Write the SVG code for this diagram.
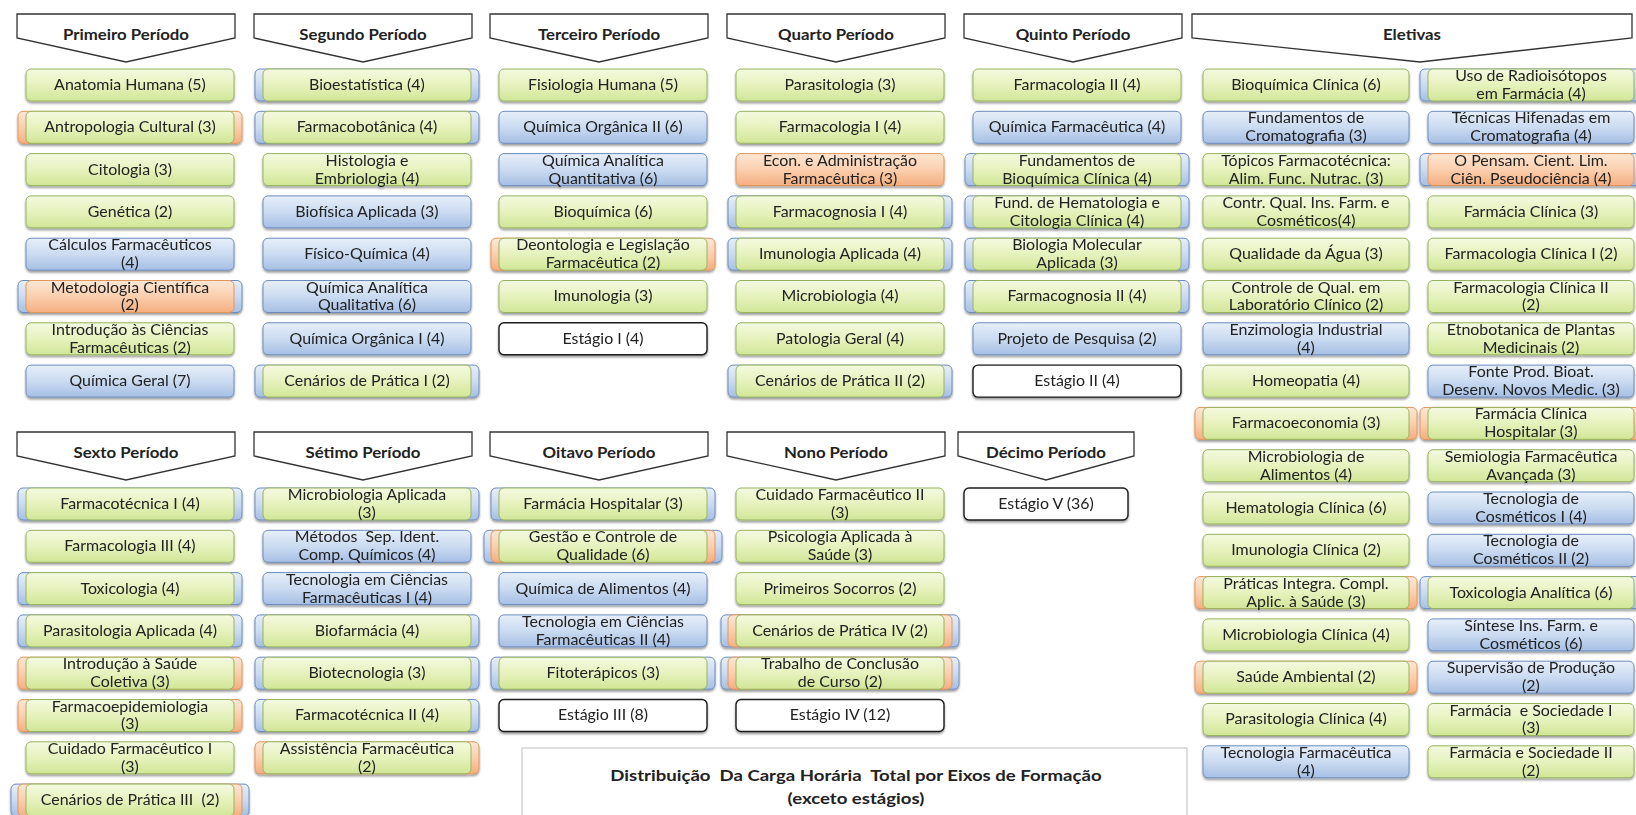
<svg xmlns="http://www.w3.org/2000/svg" width="1636" height="815" viewBox="0 0 1636 815">
<defs>
<linearGradient id="gG" x1="0" y1="0" x2="0" y2="1"><stop offset="0" stop-color="#f4f9e0"/><stop offset="0.5" stop-color="#e6f2bd"/><stop offset="1" stop-color="#d1e697"/></linearGradient>
<linearGradient id="gB" x1="0" y1="0" x2="0" y2="1"><stop offset="0" stop-color="#e7eff9"/><stop offset="0.5" stop-color="#cbdbf1"/><stop offset="1" stop-color="#a6bfe4"/></linearGradient>
<linearGradient id="gO" x1="0" y1="0" x2="0" y2="1"><stop offset="0" stop-color="#fde7d5"/><stop offset="0.5" stop-color="#fbcfae"/><stop offset="1" stop-color="#f5ae80"/></linearGradient>
<filter id="sh" x="-10%" y="-20%" width="120%" height="160%"><feDropShadow dx="0" dy="2" stdDeviation="1.2" flood-color="#000" flood-opacity="0.38"/></filter>
</defs>
<style>
.node{filter:url(#sh)}
rect{stroke-width:1}
.g{fill:url(#gG);stroke:#98b35f}
.b{fill:url(#gB);stroke:#6c8dbd}
.o{fill:url(#gO);stroke:#e2965a}
.w{fill:#fff;stroke:#1a1a1a;stroke-width:1.4}
text{font-family:Lato,"Liberation Sans",sans-serif;font-size:14.5px;fill:#222;text-anchor:middle;white-space:pre;transform-box:fill-box;transform-origin:center;transform:scaleX(1.1)}
.hdr path{fill:#fff;stroke:#333;stroke-width:1.3}
.hdr text{font-size:15px;font-weight:bold;transform:scaleX(1.12)}
.legend rect{fill:#fff;stroke:#bdbdbd}
.legend text{font-size:15px;font-weight:bold;transform:scaleX(1.24)}
</style>

<!-- period headers, first band -->
<g id="h-primeiro" class="hdr" transform="translate(17,14)"><path d="M0,0H218V24L109,48L0,24Z"/><text x="109" y="26">Primeiro Período</text></g>
<g id="h-segundo" class="hdr" transform="translate(254,14)"><path d="M0,0H218V24L109,48L0,24Z"/><text x="109" y="26">Segundo Período</text></g>
<g id="h-terceiro" class="hdr" transform="translate(490,14)"><path d="M0,0H218V24L109,48L0,24Z"/><text x="109" y="26">Terceiro Período</text></g>
<g id="h-quarto" class="hdr" transform="translate(727,14)"><path d="M0,0H218V24L109,48L0,24Z"/><text x="109" y="26">Quarto Período</text></g>
<g id="h-quinto" class="hdr" transform="translate(964,14)"><path d="M0,0H218V24L109,48L0,24Z"/><text x="109" y="26">Quinto Período</text></g>
<g id="h-eletivas" class="hdr" transform="translate(1192,14)"><path d="M0,0H440V24L228,48L0,24Z"/><text x="220" y="26">Eletivas</text></g>

<!-- period headers, second band -->
<g id="h-sexto" class="hdr" transform="translate(17,432)"><path d="M0,0H218V24L109,48L0,24Z"/><text x="109" y="26">Sexto Período</text></g>
<g id="h-setimo" class="hdr" transform="translate(254,432)"><path d="M0,0H218V24L109,48L0,24Z"/><text x="109" y="26">Sétimo Período</text></g>
<g id="h-oitavo" class="hdr" transform="translate(490,432)"><path d="M0,0H218V24L109,48L0,24Z"/><text x="109" y="26">Oitavo Período</text></g>
<g id="h-nono" class="hdr" transform="translate(727,432)"><path d="M0,0H218V24L109,48L0,24Z"/><text x="109" y="26">Nono Período</text></g>
<g id="h-decimo" class="hdr" transform="translate(958,432)"><path d="M0,0H176V24L88,48L0,24Z"/><text x="88" y="26">Décimo Período</text></g>

<!-- Primeiro Período -->
<g id="p1-anatomia" class="node" transform="translate(26,69)"><rect class="g" width="208" height="32" rx="5"/><text x="104" y="21">Anatomia Humana (5)</text></g>
<g id="p1-antropologia" class="node" transform="translate(26,111.3)"><rect class="o" x="-8" width="224" height="32" rx="5"/><rect class="g" width="208" height="32" rx="5"/><text x="104" y="21">Antropologia Cultural (3)</text></g>
<g id="p1-citologia" class="node" transform="translate(26,153.6)"><rect class="g" width="208" height="32" rx="5"/><text x="104" y="21">Citologia (3)</text></g>
<g id="p1-genetica" class="node" transform="translate(26,195.9)"><rect class="g" width="208" height="32" rx="5"/><text x="104" y="21">Genética (2)</text></g>
<g id="p1-calculos" class="node" transform="translate(26,238.2)"><rect class="b" width="208" height="32" rx="5"/><text x="104"><tspan x="104" y="12">Cálculos Farmacêuticos</tspan><tspan x="104" y="30">(4)</tspan></text></g>
<g id="p1-metodologia" class="node" transform="translate(26,280.5)"><rect class="b" x="-8" width="224" height="32" rx="5"/><rect class="o" width="208" height="32" rx="5"/><text x="104"><tspan x="104" y="12">Metodologia Científica</tspan><tspan x="104" y="30">(2)</tspan></text></g>
<g id="p1-introducao" class="node" transform="translate(26,322.8)"><rect class="g" width="208" height="32" rx="5"/><text x="104"><tspan x="104" y="12">Introdução às Ciências</tspan><tspan x="104" y="30">Farmacêuticas (2)</tspan></text></g>
<g id="p1-quimica-geral" class="node" transform="translate(26,365.1)"><rect class="b" width="208" height="32" rx="5"/><text x="104" y="21">Química Geral (7)</text></g>

<!-- Segundo Período -->
<g id="p2-bioestatistica" class="node" transform="translate(263,69)"><rect class="b" x="-8" width="224" height="32" rx="5"/><rect class="g" width="208" height="32" rx="5"/><text x="104" y="21">Bioestatística (4)</text></g>
<g id="p2-farmacobotanica" class="node" transform="translate(263,111.3)"><rect class="b" x="-8" width="224" height="32" rx="5"/><rect class="g" width="208" height="32" rx="5"/><text x="104" y="21">Farmacobotânica (4)</text></g>
<g id="p2-histologia" class="node" transform="translate(263,153.6)"><rect class="g" width="208" height="32" rx="5"/><text x="104"><tspan x="104" y="12">Histologia e</tspan><tspan x="104" y="30">Embriologia (4)</tspan></text></g>
<g id="p2-biofisica" class="node" transform="translate(263,195.9)"><rect class="b" width="208" height="32" rx="5"/><text x="104" y="21">Biofísica Aplicada (3)</text></g>
<g id="p2-fisico-quimica" class="node" transform="translate(263,238.2)"><rect class="b" width="208" height="32" rx="5"/><text x="104" y="21">Físico-Química (4)</text></g>
<g id="p2-analitica-quali" class="node" transform="translate(263,280.5)"><rect class="b" width="208" height="32" rx="5"/><text x="104"><tspan x="104" y="12">Química Analítica</tspan><tspan x="104" y="30">Qualitativa (6)</tspan></text></g>
<g id="p2-organica-1" class="node" transform="translate(263,322.8)"><rect class="b" width="208" height="32" rx="5"/><text x="104" y="21">Química Orgânica I (4)</text></g>
<g id="p2-cenarios-1" class="node" transform="translate(263,365.1)"><rect class="b" x="-8" width="224" height="32" rx="5"/><rect class="g" width="208" height="32" rx="5"/><text x="104" y="21">Cenários de Prática I (2)</text></g>

<!-- Terceiro Período -->
<g id="p3-fisiologia" class="node" transform="translate(499,69)"><rect class="g" width="208" height="32" rx="5"/><text x="104" y="21">Fisiologia Humana (5)</text></g>
<g id="p3-organica-2" class="node" transform="translate(499,111.3)"><rect class="b" width="208" height="32" rx="5"/><text x="104" y="21">Química Orgânica II (6)</text></g>
<g id="p3-analitica-quanti" class="node" transform="translate(499,153.6)"><rect class="b" width="208" height="32" rx="5"/><text x="104"><tspan x="104" y="12">Química Analítica</tspan><tspan x="104" y="30">Quantitativa (6)</tspan></text></g>
<g id="p3-bioquimica" class="node" transform="translate(499,195.9)"><rect class="g" width="208" height="32" rx="5"/><text x="104" y="21">Bioquímica (6)</text></g>
<g id="p3-deontologia" class="node" transform="translate(499,238.2)"><rect class="o" x="-8" width="224" height="32" rx="5"/><rect class="g" width="208" height="32" rx="5"/><text x="104"><tspan x="104" y="12">Deontologia e Legislação</tspan><tspan x="104" y="30">Farmacêutica (2)</tspan></text></g>
<g id="p3-imunologia" class="node" transform="translate(499,280.5)"><rect class="g" width="208" height="32" rx="5"/><text x="104" y="21">Imunologia (3)</text></g>
<g id="p3-estagio-1" class="node" transform="translate(499,322.8)"><rect class="w" width="208" height="32" rx="5"/><text x="104" y="21">Estágio I (4)</text></g>

<!-- Quarto Período -->
<g id="p4-parasitologia" class="node" transform="translate(736,69)"><rect class="g" width="208" height="32" rx="5"/><text x="104" y="21">Parasitologia (3)</text></g>
<g id="p4-farmacologia-1" class="node" transform="translate(736,111.3)"><rect class="g" width="208" height="32" rx="5"/><text x="104" y="21">Farmacologia I (4)</text></g>
<g id="p4-economia" class="node" transform="translate(736,153.6)"><rect class="o" width="208" height="32" rx="5"/><text x="104"><tspan x="104" y="12">Econ. e Administração</tspan><tspan x="104" y="30">Farmacêutica (3)</tspan></text></g>
<g id="p4-farmacognosia-1" class="node" transform="translate(736,195.9)"><rect class="b" x="-8" width="224" height="32" rx="5"/><rect class="g" width="208" height="32" rx="5"/><text x="104" y="21">Farmacognosia I (4)</text></g>
<g id="p4-imunologia-aplicada" class="node" transform="translate(736,238.2)"><rect class="b" x="-8" width="224" height="32" rx="5"/><rect class="g" width="208" height="32" rx="5"/><text x="104" y="21">Imunologia Aplicada (4)</text></g>
<g id="p4-microbiologia" class="node" transform="translate(736,280.5)"><rect class="g" width="208" height="32" rx="5"/><text x="104" y="21">Microbiologia (4)</text></g>
<g id="p4-patologia" class="node" transform="translate(736,322.8)"><rect class="g" width="208" height="32" rx="5"/><text x="104" y="21">Patologia Geral (4)</text></g>
<g id="p4-cenarios-2" class="node" transform="translate(736,365.1)"><rect class="b" x="-8" width="224" height="32" rx="5"/><rect class="g" width="208" height="32" rx="5"/><text x="104" y="21">Cenários de Prática II (2)</text></g>

<!-- Quinto Período -->
<g id="p5-farmacologia-2" class="node" transform="translate(973,69)"><rect class="g" width="208" height="32" rx="5"/><text x="104" y="21">Farmacologia II (4)</text></g>
<g id="p5-quimica-farm" class="node" transform="translate(973,111.3)"><rect class="b" width="208" height="32" rx="5"/><text x="104" y="21">Química Farmacêutica (4)</text></g>
<g id="p5-fund-bioquimica" class="node" transform="translate(973,153.6)"><rect class="b" x="-8" width="224" height="32" rx="5"/><rect class="g" width="208" height="32" rx="5"/><text x="104"><tspan x="104" y="12">Fundamentos de</tspan><tspan x="104" y="30">Bioquímica Clínica (4)</tspan></text></g>
<g id="p5-fund-hematologia" class="node" transform="translate(973,195.9)"><rect class="b" x="-8" width="224" height="32" rx="5"/><rect class="g" width="208" height="32" rx="5"/><text x="104"><tspan x="104" y="12">Fund. de Hematologia e</tspan><tspan x="104" y="30">Citologia Clínica (4)</tspan></text></g>
<g id="p5-biologia-molecular" class="node" transform="translate(973,238.2)"><rect class="b" x="-8" width="224" height="32" rx="5"/><rect class="g" width="208" height="32" rx="5"/><text x="104"><tspan x="104" y="12">Biologia Molecular</tspan><tspan x="104" y="30">Aplicada (3)</tspan></text></g>
<g id="p5-farmacognosia-2" class="node" transform="translate(973,280.5)"><rect class="b" x="-8" width="224" height="32" rx="5"/><rect class="g" width="208" height="32" rx="5"/><text x="104" y="21">Farmacognosia II (4)</text></g>
<g id="p5-projeto" class="node" transform="translate(973,322.8)"><rect class="b" width="208" height="32" rx="5"/><text x="104" y="21">Projeto de Pesquisa (2)</text></g>
<g id="p5-estagio-2" class="node" transform="translate(973,365.1)"><rect class="w" width="208" height="32" rx="5"/><text x="104" y="21">Estágio II (4)</text></g>

<!-- Eletivas, first column -->
<g id="e1-bioquimica-clinica" class="node" transform="translate(1203,69)"><rect class="g" width="206" height="32" rx="5"/><text x="103" y="21">Bioquímica Clínica (6)</text></g>
<g id="e1-cromatografia" class="node" transform="translate(1203,111.3)"><rect class="b" width="206" height="32" rx="5"/><text x="103"><tspan x="103" y="12">Fundamentos de</tspan><tspan x="103" y="30">Cromatografia (3)</tspan></text></g>
<g id="e1-topicos" class="node" transform="translate(1203,153.6)"><rect class="g" width="206" height="32" rx="5"/><text x="103"><tspan x="103" y="12">Tópicos Farmacotécnica:</tspan><tspan x="103" y="30">Alim. Func. Nutrac. (3)</tspan></text></g>
<g id="e1-contr-qual" class="node" transform="translate(1203,195.9)"><rect class="g" width="206" height="32" rx="5"/><text x="103"><tspan x="103" y="12">Contr. Qual. Ins. Farm. e</tspan><tspan x="103" y="30">Cosméticos(4)</tspan></text></g>
<g id="e1-agua" class="node" transform="translate(1203,238.2)"><rect class="g" width="206" height="32" rx="5"/><text x="103" y="21">Qualidade da Água (3)</text></g>
<g id="e1-controle-lab" class="node" transform="translate(1203,280.5)"><rect class="g" width="206" height="32" rx="5"/><text x="103"><tspan x="103" y="12">Controle de Qual. em</tspan><tspan x="103" y="30">Laboratório Clínico (2)</tspan></text></g>
<g id="e1-enzimologia" class="node" transform="translate(1203,322.8)"><rect class="b" width="206" height="32" rx="5"/><text x="103"><tspan x="103" y="12">Enzimologia Industrial</tspan><tspan x="103" y="30">(4)</tspan></text></g>
<g id="e1-homeopatia" class="node" transform="translate(1203,365.1)"><rect class="g" width="206" height="32" rx="5"/><text x="103" y="21">Homeopatia (4)</text></g>
<g id="e1-farmacoeconomia" class="node" transform="translate(1203,407.4)"><rect class="o" x="-8" width="222" height="32" rx="5"/><rect class="g" width="206" height="32" rx="5"/><text x="103" y="21">Farmacoeconomia (3)</text></g>
<g id="e1-micro-alimentos" class="node" transform="translate(1203,449.7)"><rect class="g" width="206" height="32" rx="5"/><text x="103"><tspan x="103" y="12">Microbiologia de</tspan><tspan x="103" y="30">Alimentos (4)</tspan></text></g>
<g id="e1-hematologia" class="node" transform="translate(1203,492)"><rect class="g" width="206" height="32" rx="5"/><text x="103" y="21">Hematologia Clínica (6)</text></g>
<g id="e1-imunologia-clinica" class="node" transform="translate(1203,534.3)"><rect class="g" width="206" height="32" rx="5"/><text x="103" y="21">Imunologia Clínica (2)</text></g>
<g id="e1-praticas" class="node" transform="translate(1203,576.6)"><rect class="o" x="-8" width="222" height="32" rx="5"/><rect class="g" width="206" height="32" rx="5"/><text x="103"><tspan x="103" y="12">Práticas Integra. Compl.</tspan><tspan x="103" y="30">Aplic. à Saúde (3)</tspan></text></g>
<g id="e1-micro-clinica" class="node" transform="translate(1203,618.9)"><rect class="g" width="206" height="32" rx="5"/><text x="103" y="21">Microbiologia Clínica (4)</text></g>
<g id="e1-saude-ambiental" class="node" transform="translate(1203,661.2)"><rect class="o" x="-8" width="222" height="32" rx="5"/><rect class="g" width="206" height="32" rx="5"/><text x="103" y="21">Saúde Ambiental (2)</text></g>
<g id="e1-parasitologia-clinica" class="node" transform="translate(1203,703.5)"><rect class="g" width="206" height="32" rx="5"/><text x="103" y="21">Parasitologia Clínica (4)</text></g>
<g id="e1-tecnologia-farm" class="node" transform="translate(1203,745.8)"><rect class="b" width="206" height="32" rx="5"/><text x="103"><tspan x="103" y="12">Tecnologia Farmacêutica</tspan><tspan x="103" y="30">(4)</tspan></text></g>

<!-- Eletivas, second column -->
<g id="e2-radioisotopos" class="node" transform="translate(1428,69)"><rect class="b" x="-8" width="222" height="32" rx="5"/><rect class="g" width="206" height="32" rx="5"/><text x="103"><tspan x="103" y="12">Uso de Radioisótopos</tspan><tspan x="103" y="30">em Farmácia (4)</tspan></text></g>
<g id="e2-hifenadas" class="node" transform="translate(1428,111.3)"><rect class="b" width="206" height="32" rx="5"/><text x="103"><tspan x="103" y="12">Técnicas Hifenadas em</tspan><tspan x="103" y="30">Cromatografia (4)</tspan></text></g>
<g id="e2-pensamento" class="node" transform="translate(1428,153.6)"><rect class="b" x="-8" width="222" height="32" rx="5"/><rect class="o" width="206" height="32" rx="5"/><text x="103"><tspan x="103" y="12">O Pensam. Cient. Lim.</tspan><tspan x="103" y="30">Ciên. Pseudociência (4)</tspan></text></g>
<g id="e2-farmacia-clinica" class="node" transform="translate(1428,195.9)"><rect class="g" width="206" height="32" rx="5"/><text x="103" y="21">Farmácia Clínica (3)</text></g>
<g id="e2-farmacologia-clinica-1" class="node" transform="translate(1428,238.2)"><rect class="g" width="206" height="32" rx="5"/><text x="103" y="21">Farmacologia Clínica I (2)</text></g>
<g id="e2-farmacologia-clinica-2" class="node" transform="translate(1428,280.5)"><rect class="g" width="206" height="32" rx="5"/><text x="103"><tspan x="103" y="12">Farmacologia Clínica II</tspan><tspan x="103" y="30">(2)</tspan></text></g>
<g id="e2-etnobotanica" class="node" transform="translate(1428,322.8)"><rect class="g" width="206" height="32" rx="5"/><text x="103"><tspan x="103" y="12">Etnobotanica de Plantas</tspan><tspan x="103" y="30">Medicinais (2)</tspan></text></g>
<g id="e2-bioativos" class="node" transform="translate(1428,365.1)"><rect class="b" width="206" height="32" rx="5"/><text x="103"><tspan x="103" y="12">Fonte Prod. Bioat.</tspan><tspan x="103" y="30">Desenv. Novos Medic. (3)</tspan></text></g>
<g id="e2-clinica-hospitalar" class="node" transform="translate(1428,407.4)"><rect class="o" x="-8" width="222" height="32" rx="5"/><rect class="g" width="206" height="32" rx="5"/><text x="103"><tspan x="103" y="12">Farmácia Clínica</tspan><tspan x="103" y="30">Hospitalar (3)</tspan></text></g>
<g id="e2-semiologia" class="node" transform="translate(1428,449.7)"><rect class="g" width="206" height="32" rx="5"/><text x="103"><tspan x="103" y="12">Semiologia Farmacêutica</tspan><tspan x="103" y="30">Avançada (3)</tspan></text></g>
<g id="e2-cosmeticos-1" class="node" transform="translate(1428,492)"><rect class="b" width="206" height="32" rx="5"/><text x="103"><tspan x="103" y="12">Tecnologia de</tspan><tspan x="103" y="30">Cosméticos I (4)</tspan></text></g>
<g id="e2-cosmeticos-2" class="node" transform="translate(1428,534.3)"><rect class="b" width="206" height="32" rx="5"/><text x="103"><tspan x="103" y="12">Tecnologia de</tspan><tspan x="103" y="30">Cosméticos II (2)</tspan></text></g>
<g id="e2-toxicologia-analitica" class="node" transform="translate(1428,576.6)"><rect class="b" x="-8" width="222" height="32" rx="5"/><rect class="g" width="206" height="32" rx="5"/><text x="103" y="21">Toxicologia Analítica (6)</text></g>
<g id="e2-sintese" class="node" transform="translate(1428,618.9)"><rect class="b" width="206" height="32" rx="5"/><text x="103"><tspan x="103" y="12">Síntese Ins. Farm. e</tspan><tspan x="103" y="30">Cosméticos (6)</tspan></text></g>
<g id="e2-supervisao" class="node" transform="translate(1428,661.2)"><rect class="b" width="206" height="32" rx="5"/><text x="103"><tspan x="103" y="12">Supervisão de Produção</tspan><tspan x="103" y="30">(2)</tspan></text></g>
<g id="e2-sociedade-1" class="node" transform="translate(1428,703.5)"><rect class="g" width="206" height="32" rx="5"/><text x="103"><tspan x="103" y="12">Farmácia  e Sociedade I</tspan><tspan x="103" y="30">(3)</tspan></text></g>
<g id="e2-sociedade-2" class="node" transform="translate(1428,745.8)"><rect class="g" width="206" height="32" rx="5"/><text x="103"><tspan x="103" y="12">Farmácia e Sociedade II</tspan><tspan x="103" y="30">(2)</tspan></text></g>

<!-- Sexto Período -->
<g id="p6-farmacotecnica-1" class="node" transform="translate(26,488)"><rect class="b" x="-8" width="224" height="32" rx="5"/><rect class="g" width="208" height="32" rx="5"/><text x="104" y="21">Farmacotécnica I (4)</text></g>
<g id="p6-farmacologia-3" class="node" transform="translate(26,530.3)"><rect class="g" width="208" height="32" rx="5"/><text x="104" y="21">Farmacologia III (4)</text></g>
<g id="p6-toxicologia" class="node" transform="translate(26,572.6)"><rect class="b" x="-8" width="224" height="32" rx="5"/><rect class="g" width="208" height="32" rx="5"/><text x="104" y="21">Toxicologia (4)</text></g>
<g id="p6-parasitologia-aplicada" class="node" transform="translate(26,614.9)"><rect class="b" x="-8" width="224" height="32" rx="5"/><rect class="g" width="208" height="32" rx="5"/><text x="104" y="21">Parasitologia Aplicada (4)</text></g>
<g id="p6-saude-coletiva" class="node" transform="translate(26,657.2)"><rect class="o" x="-8" width="224" height="32" rx="5"/><rect class="g" width="208" height="32" rx="5"/><text x="104"><tspan x="104" y="12">Introdução à Saúde</tspan><tspan x="104" y="30">Coletiva (3)</tspan></text></g>
<g id="p6-farmacoepidemiologia" class="node" transform="translate(26,699.5)"><rect class="o" x="-8" width="224" height="32" rx="5"/><rect class="g" width="208" height="32" rx="5"/><text x="104"><tspan x="104" y="12">Farmacoepidemiologia</tspan><tspan x="104" y="30">(3)</tspan></text></g>
<g id="p6-cuidado-1" class="node" transform="translate(26,741.8)"><rect class="g" width="208" height="32" rx="5"/><text x="104"><tspan x="104" y="12">Cuidado Farmacêutico I</tspan><tspan x="104" y="30">(3)</tspan></text></g>
<g id="p6-cenarios-3" class="node" transform="translate(26,784.1)"><rect class="b" x="-15" width="238" height="32" rx="5"/><rect class="o" x="-8" width="224" height="32" rx="5"/><rect class="g" width="208" height="32" rx="5"/><text x="104" y="21">Cenários de Prática III  (2)</text></g>

<!-- Sétimo Período -->
<g id="p7-micro-aplicada" class="node" transform="translate(263,488)"><rect class="b" x="-8" width="224" height="32" rx="5"/><rect class="g" width="208" height="32" rx="5"/><text x="104"><tspan x="104" y="12">Microbiologia Aplicada</tspan><tspan x="104" y="30">(3)</tspan></text></g>
<g id="p7-metodos" class="node" transform="translate(263,530.3)"><rect class="b" width="208" height="32" rx="5"/><text x="104"><tspan x="104" y="12">Métodos  Sep. Ident.</tspan><tspan x="104" y="30">Comp. Químicos (4)</tspan></text></g>
<g id="p7-tecnologia-1" class="node" transform="translate(263,572.6)"><rect class="b" width="208" height="32" rx="5"/><text x="104"><tspan x="104" y="12">Tecnologia em Ciências</tspan><tspan x="104" y="30">Farmacêuticas I (4)</tspan></text></g>
<g id="p7-biofarmacia" class="node" transform="translate(263,614.9)"><rect class="b" x="-8" width="224" height="32" rx="5"/><rect class="g" width="208" height="32" rx="5"/><text x="104" y="21">Biofarmácia (4)</text></g>
<g id="p7-biotecnologia" class="node" transform="translate(263,657.2)"><rect class="b" x="-8" width="224" height="32" rx="5"/><rect class="g" width="208" height="32" rx="5"/><text x="104" y="21">Biotecnologia (3)</text></g>
<g id="p7-farmacotecnica-2" class="node" transform="translate(263,699.5)"><rect class="b" x="-8" width="224" height="32" rx="5"/><rect class="g" width="208" height="32" rx="5"/><text x="104" y="21">Farmacotécnica II (4)</text></g>
<g id="p7-assistencia" class="node" transform="translate(263,741.8)"><rect class="o" x="-8" width="224" height="32" rx="5"/><rect class="g" width="208" height="32" rx="5"/><text x="104"><tspan x="104" y="12">Assistência Farmacêutica</tspan><tspan x="104" y="30">(2)</tspan></text></g>

<!-- Oitavo Período -->
<g id="p8-hospitalar" class="node" transform="translate(499,488)"><rect class="b" x="-8" width="224" height="32" rx="5"/><rect class="g" width="208" height="32" rx="5"/><text x="104" y="21">Farmácia Hospitalar (3)</text></g>
<g id="p8-gestao" class="node" transform="translate(499,530.3)"><rect class="b" x="-15" width="238" height="32" rx="5"/><rect class="o" x="-8" width="224" height="32" rx="5"/><rect class="g" width="208" height="32" rx="5"/><text x="104"><tspan x="104" y="12">Gestão e Controle de</tspan><tspan x="104" y="30">Qualidade (6)</tspan></text></g>
<g id="p8-alimentos" class="node" transform="translate(499,572.6)"><rect class="b" width="208" height="32" rx="5"/><text x="104" y="21">Química de Alimentos (4)</text></g>
<g id="p8-tecnologia-2" class="node" transform="translate(499,614.9)"><rect class="b" width="208" height="32" rx="5"/><text x="104"><tspan x="104" y="12">Tecnologia em Ciências</tspan><tspan x="104" y="30">Farmacêuticas II (4)</tspan></text></g>
<g id="p8-fitoterapicos" class="node" transform="translate(499,657.2)"><rect class="b" x="-8" width="224" height="32" rx="5"/><rect class="g" width="208" height="32" rx="5"/><text x="104" y="21">Fitoterápicos (3)</text></g>
<g id="p8-estagio-3" class="node" transform="translate(499,699.5)"><rect class="w" width="208" height="32" rx="5"/><text x="104" y="21">Estágio III (8)</text></g>

<!-- Nono Período -->
<g id="p9-cuidado-2" class="node" transform="translate(736,488)"><rect class="g" width="208" height="32" rx="5"/><text x="104"><tspan x="104" y="12">Cuidado Farmacêutico II</tspan><tspan x="104" y="30">(3)</tspan></text></g>
<g id="p9-psicologia" class="node" transform="translate(736,530.3)"><rect class="g" width="208" height="32" rx="5"/><text x="104"><tspan x="104" y="12">Psicologia Aplicada à</tspan><tspan x="104" y="30">Saúde (3)</tspan></text></g>
<g id="p9-socorros" class="node" transform="translate(736,572.6)"><rect class="g" width="208" height="32" rx="5"/><text x="104" y="21">Primeiros Socorros (2)</text></g>
<g id="p9-cenarios-4" class="node" transform="translate(736,614.9)"><rect class="b" x="-15" width="238" height="32" rx="5"/><rect class="o" x="-8" width="224" height="32" rx="5"/><rect class="g" width="208" height="32" rx="5"/><text x="104" y="21">Cenários de Prática IV (2)</text></g>
<g id="p9-tcc" class="node" transform="translate(736,657.2)"><rect class="b" x="-15" width="238" height="32" rx="5"/><rect class="o" x="-8" width="224" height="32" rx="5"/><rect class="g" width="208" height="32" rx="5"/><text x="104"><tspan x="104" y="12">Trabalho de Conclusão</tspan><tspan x="104" y="30">de Curso (2)</tspan></text></g>
<g id="p9-estagio-4" class="node" transform="translate(736,699.5)"><rect class="w" width="208" height="32" rx="5"/><text x="104" y="21">Estágio IV (12)</text></g>

<!-- Décimo Período -->
<g id="p10-estagio-5" class="node" transform="translate(964,488)"><rect class="w" width="164" height="32" rx="5"/><text x="82" y="21">Estágio V (36)</text></g>

<!-- chart caption panel -->
<g id="legend" class="legend"><rect x="522" y="748" width="665" height="90"/><text x="856" y="781">Distribuição  Da Carga Horária  Total por Eixos de Formação</text><text x="856" y="804">(exceto estágios)</text></g>
</svg>
